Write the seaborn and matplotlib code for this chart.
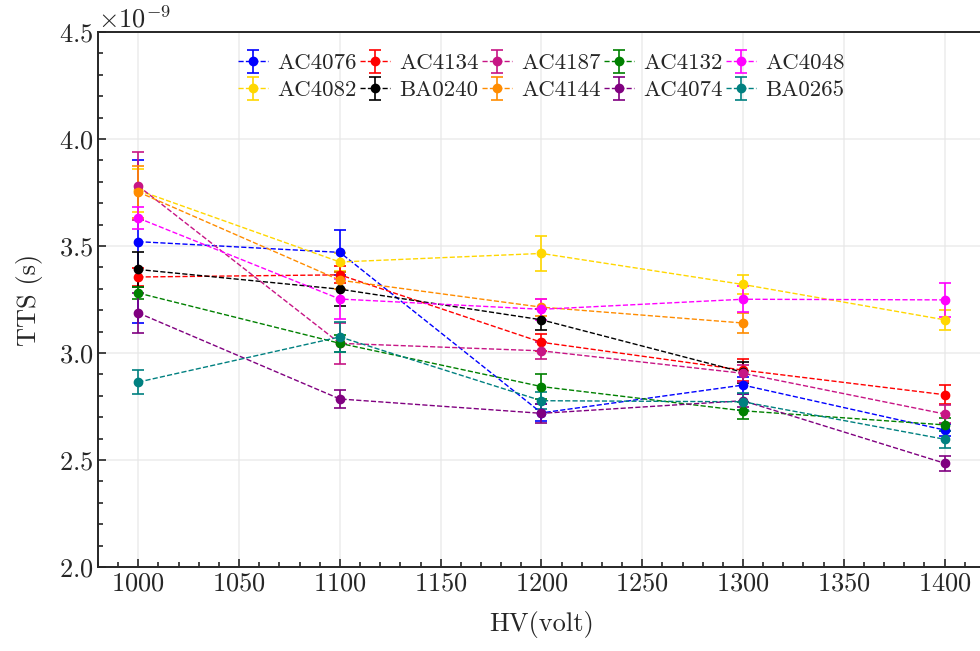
import numpy as np
import matplotlib
matplotlib.use("Agg")
import matplotlib.pyplot as plt
import seaborn as sns
from matplotlib.ticker import MultipleLocator

# HV points and TTS values (in ns, scaled to seconds below)
hv = [1000, 1100, 1200, 1300, 1400]

ac4076 = [3.52, 3.47, 2.72, 2.85, 2.64]
ac4076_err = [0.38, 0.105, 0.04, 0.04, 0.03]
ac4082 = [3.76, 3.425, 3.465, 3.32, 3.155]
ac4082_err = [0.10, 0.04, 0.08, 0.045, 0.047]
ac4134 = [3.355, 3.365, 3.05, 2.92, 2.805]
ac4134_err = [0.04, 0.04, 0.04, 0.05, 0.045]
ba0240 = [3.39, 3.298, 3.155, 2.91]
ba0240_err = [0.08, 0.08, 0.05, 0.05]
ac4187 = [3.78, 3.045, 3.01, 2.905, 2.715]
ac4187_err = [0.16, 0.095, 0.04, 0.04, 0.04]
ac4144 = [3.752, 3.34, 3.214, 3.14]
ac4144_err = [0.12, 0.04, 0.04, 0.047]
ac4132 = [3.28, 3.045, 2.843, 2.73, 2.664]
ac4132_err = [0.03, 0.04, 0.06, 0.04, 0.03]
ac4074 = [3.187, 2.785, 2.718, 2.777, 2.485]
ac4074_err = [0.095, 0.04, 0.045, 0.03, 0.035]
ac4048 = [3.63, 3.252, 3.204, 3.251, 3.248]
ac4048_err = [0.05, 0.095, 0.05, 0.06, 0.078]
ba0265 = [2.864, 3.075, 2.777, 2.772, 2.597]
ba0265_err = [0.058, 0.07, 0.04, 0.04, 0.04]

names = ["AC4076", "AC4082", "AC4134", "BA0240", "AC4187",
         "AC4144", "AC4132", "AC4074", "AC4048", "BA0265"]
values = [ac4076, ac4082, ac4134, ba0240, ac4187,
          ac4144, ac4132, ac4074, ac4048, ba0265]
errors = [ac4076_err, ac4082_err, ac4134_err, ba0240_err, ac4187_err,
          ac4144_err, ac4132_err, ac4074_err, ac4048_err, ba0265_err]
colors = ["blue", "gold", "red", "black", "mediumvioletred",
          "darkorange", "green", "purple", "magenta", "teal"]

sns.set_style("ticks")
plt.rcParams["font.family"] = "serif"
plt.rcParams["font.serif"] = ["cmr10"]
plt.rcParams["mathtext.fontset"] = "cm"
plt.rcParams["axes.formatter.use_mathtext"] = True
plt.rcParams["axes.unicode_minus"] = False

fig = plt.figure(figsize=(9.8, 6.51), dpi=100)
ax = fig.add_axes([0.1, 0.129, 0.905, 0.822])

for name, v, e, c in zip(names, values, errors, colors):
    x = hv[:len(v)]
    ax.errorbar(x, np.array(v) * 1e-9, yerr=np.array(e) * 1e-9, fmt="o--",
                color=c, ms=6, lw=1, capsize=4.5, elinewidth=1.2,
                capthick=1.2, label=name)

ax.set_xlim(980, 1420)
ax.set_ylim(2.0e-9, 4.5e-9)
ax.xaxis.set_major_locator(MultipleLocator(50))
ax.xaxis.set_minor_locator(MultipleLocator(10))
ax.yaxis.set_major_locator(MultipleLocator(0.5e-9))
ax.yaxis.set_minor_locator(MultipleLocator(0.1e-9))
ax.tick_params(which="both", direction="in", labelsize=19, width=1.2)
ax.tick_params(which="major", length=6)
ax.tick_params(which="minor", length=3.5)
ax.yaxis.get_offset_text().set_fontsize(19)
for s in ax.spines.values():
    s.set_linewidth(1.4)

ax.grid(True, which="major", color="#e6e6e6", alpha=0.7, lw=1.2)
ax.set_xlabel("HV(volt)", fontsize=19, labelpad=11)
ax.set_ylabel("TTS (s)", fontsize=19, labelpad=11)

ax.legend(ncol=5, loc="upper center", bbox_to_anchor=(0.5, 0.99),
          frameon=False, fontsize=16.5, handlelength=1.3, handletextpad=0.4,
          columnspacing=0.15, labelspacing=0.3, borderaxespad=0.3)

fig.savefig("out.png", dpi=100)
